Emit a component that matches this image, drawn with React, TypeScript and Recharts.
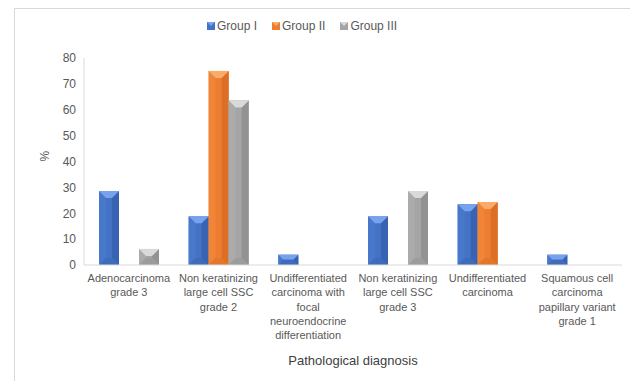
import React from 'react';
import { BarChart, Bar, XAxis, YAxis } from 'recharts';

const categories = [
  'Adenocarcinoma\ngrade 3',
  'Non keratinizing\nlarge cell SSC\ngrade 2',
  'Undifferentiated\ncarcinoma with\nfocal\nneuroendocrine\ndifferentiation',
  'Non keratinizing\nlarge cell SSC\ngrade 3',
  'Undifferentiated\ncarcinoma',
  'Squamous cell\ncarcinoma\npapillary variant\ngrade 1',
];
const groupI = [28.6, 18.8, 4, 18.8, 23.5, 4];
const groupII = [0, 75, 0, 0, 24.3, 0];
const groupIII = [6.2, 63.6, 0, 28.6, 0, 0];
const yTicks = [0, 10, 20, 30, 40, 50, 60, 70, 80];

const data = categories.map((c, i) => ({ name: c, g1: groupI[i], g2: groupII[i], g3: groupIII[i] }));

const FONT = '"Liberation Sans", Arial, sans-serif';
const TEXT = '#595959';
const BORDER = '#d9d9d9';

const palette: Record<string, { base: string; top: string; left: string; right: string; bottom: string }> = {
  g1: { base: '#4472c4', top: '#78a2ee', left: '#4878cc', right: '#3862b2', bottom: '#3f6bbb' },
  g2: { base: '#ed7d31', top: '#f9ab6a', left: '#f08437', right: '#dc6f25', bottom: '#e2762b' },
  g3: { base: '#a5a5a5', top: '#d9d9d9', left: '#ababab', right: '#929292', bottom: '#9c9c9c' },
};

const bevelBar = (key: string) => (props: any) => {
  const { x, y, width: w, height: h } = props;
  if (!h || h <= 0) return null;
  const c = palette[key];
  const d = Math.min(w / 2, h / 2, 7);
  return (
    <g>
      <rect x={x} y={y} width={w} height={h} fill={c.base} />
      <polygon points={`${x},${y} ${x + d},${y + d} ${x + d},${y + h - d} ${x},${y + h}`} fill={c.left} />
      <polygon points={`${x + w},${y} ${x + w - d},${y + d} ${x + w - d},${y + h - d} ${x + w},${y + h}`} fill={c.right} />
      <polygon points={`${x},${y} ${x + w},${y} ${x + w - d},${y + d} ${x + d},${y + d}`} fill={c.top} />
      <polygon points={`${x},${y + h} ${x + w},${y + h} ${x + w - d},${y + h - d} ${x + d},${y + h - d}`} fill={c.bottom} />
    </g>
  );
};

const CategoryTick = (props: any) => {
  const { x, y, payload } = props;
  const lines = String(payload.value).split('\n');
  return (
    <text x={x} y={y + 9} textAnchor="middle" fill={TEXT} fontSize={11} fontFamily={FONT}>
      {lines.map((l, i) => (
        <tspan key={i} x={x} dy={i === 0 ? 0 : 14.3}>{l}</tspan>
      ))}
    </text>
  );
};

const legendItems = [
  { key: 'g1', label: 'Group I' },
  { key: 'g2', label: 'Group II' },
  { key: 'g3', label: 'Group III' },
];

const LegendBox = () => (
  <div style={{ position: 'absolute', left: 207, top: 19, display: 'flex', gap: 15, fontFamily: FONT, fontSize: 12, color: TEXT, lineHeight: '14px' }}>
    {legendItems.map((it) => (
      <div key={it.key} style={{ display: 'flex', alignItems: 'center', gap: 2 }}>
        <svg width={8} height={8}>
          <rect x={0} y={0} width={8} height={8} fill={palette[it.key].base} />
          <polygon points="0,0 8,0 4,4" fill={palette[it.key].top} />
        </svg>
        <span>{it.label}</span>
      </div>
    ))}
  </div>
);

export default function App() {
  return (
    <div style={{ position: 'absolute', left: 0, top: 0, width: 630, height: 381, background: '#fff', overflow: 'hidden' }}>
      <div style={{ position: 'absolute', left: 14, top: 8, width: 700, height: 400, borderTop: `1px solid ${BORDER}`, borderLeft: `1px solid ${BORDER}` }} />
      <LegendBox />
      <BarChart
        width={630}
        height={381}
        data={data}
        margin={{ top: 58, right: 8, bottom: 0, left: 32 }}
        barGap={0}
        barSize={20}
        style={{ position: 'absolute', left: 0, top: 0 }}
      >
        <XAxis
          dataKey="name"
          interval={0}
          tick={<CategoryTick />}
          tickLine={false}
          axisLine={{ stroke: BORDER }}
          height={116}
          label={{ value: 'Pathological  diagnosis', position: 'insideBottom', offset: 16, fill: '#404040', fontSize: 13, fontFamily: FONT }}
        />
        <XAxis xAxisId="top" orientation="top" dataKey="name" tick={false} tickLine={false} axisLine={{ stroke: BORDER }} height={0} />
        <YAxis
          domain={[0, 80]}
          ticks={yTicks}
          interval={0}
          tickLine={false}
          axisLine={{ stroke: BORDER }}
          width={52}
          tick={{ fill: TEXT, fontSize: 12, fontFamily: FONT }}
          label={{ value: '%', angle: -90, position: 'insideLeft', offset: 13, fill: TEXT, fontSize: 12, fontFamily: FONT }}
        />
        <YAxis yAxisId="r" orientation="right" domain={[0, 80]} tick={false} tickLine={false} axisLine={{ stroke: BORDER }} width={0} />
        <Bar dataKey="g1" name="Group I" shape={bevelBar('g1')} isAnimationActive={false} />
        <Bar dataKey="g2" name="Group II" shape={bevelBar('g2')} isAnimationActive={false} />
        <Bar dataKey="g3" name="Group III" shape={bevelBar('g3')} isAnimationActive={false} />
      </BarChart>
    </div>
  );
}
